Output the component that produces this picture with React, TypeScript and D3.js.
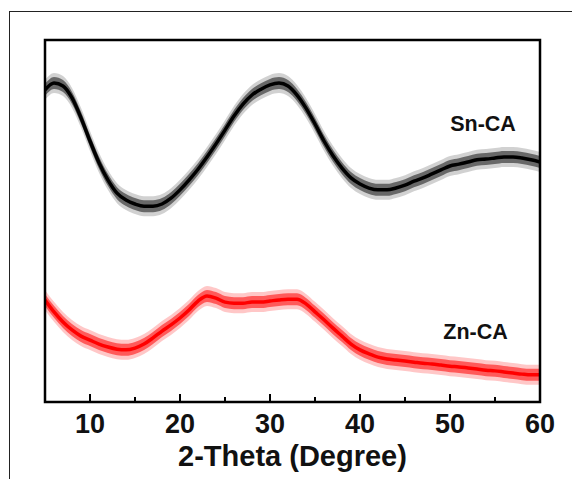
import React from "react";
import * as d3 from "d3";

const twoTheta = [5,6,7,8,9,10,11,12,13,14,15,16,17,18,19,20,21,22,23,24,25,26,27,28,29,30,31,32,33,34,35,36,37,38,39,40,41,42,43,44,45,46,47,48,49,50,51,52,53,54,55,56,57,58,59,60];
// intensities in arbitrary units (0..1000 over the plot height)
const snCA = [862,881,873,840,785,721,661,613,577,558,547,541,541,547,563,586,613,643,677,713,751,790,823,848,864,876,881,873,848,812,768,721,680,646,619,602,591,586,586,591,599,610,619,630,641,652,657,663,669,671,674,677,677,674,669,663];
const znCA = [282,249,221,199,182,171,160,152,146,144,149,160,177,196,213,232,254,279,293,287,276,273,273,276,276,279,282,284,284,271,249,227,204,182,160,144,133,124,119,116,113,110,107,105,102,99,97,94,91,88,86,83,80,77,75,75];
const xTicks = [10,20,30,40,50,60];
const xMinorTicks = [15,25,35,45,55];
const seriesNames = ["Sn-CA","Zn-CA"];

const W = 572, H = 479;
const L = 45, R = 540, T = 40, B = 402;
const FONT = "'Liberation Sans', Arial, sans-serif";

export default function App() {
  const x = d3.scaleLinear().domain([5, 60]).range([L, R]);
  const y = d3.scaleLinear().domain([0, 1000]).range([B, T]);
  const mk = (vals: number[]) => {
    const pts = twoTheta.map((t, i) => [t, vals[i]] as [number, number]);
    const line = d3.line<[number, number]>().x(d => x(d[0])).y(d => y(d[1])).curve(d3.curveMonotoneX)(pts) || "";
    const area = (b: number) => d3.area<[number, number]>().x(d => x(d[0])).y0(d => y(d[1]) + b).y1(d => y(d[1]) - b).curve(d3.curveMonotoneX)(pts) || "";
    return { line, outer: area(10), inner: area(6) };
  };
  const sn = mk(snCA);
  const zn = mk(znCA);
  return (
    <svg width={W} height={H} style={{ position: "absolute", left: 0, top: 0, background: "#fff" }}>
      <rect x={0} y={0} width={W} height={H} fill="#fff" />
      <rect x={9.5} y={11.5} width={700} height={600} fill="none" stroke="#222" strokeWidth={1} />
      <defs>
        <clipPath id="plotclip"><rect x={L} y={T} width={R - L} height={B - T} /></clipPath>
      </defs>
      <g clipPath="url(#plotclip)">
        <path d={sn.outer} fill="#000" fillOpacity={0.18} />
        <path d={sn.inner} fill="#000" fillOpacity={0.5} />
        <path d={sn.line} fill="none" stroke="#000" strokeWidth={3.5} />
        <path d={zn.outer} fill="#ff0000" fillOpacity={0.22} />
        <path d={zn.inner} fill="#ff0000" fillOpacity={0.55} />
        <path d={zn.line} fill="none" stroke="#ff0000" strokeWidth={3.5} />
      </g>
      <rect x={L} y={T} width={R - L} height={B - T} fill="none" stroke="#000" strokeWidth={2.5} />
      {xTicks.map(t => (
        <g key={t}>
          <line x1={x(t)} x2={x(t)} y1={B} y2={B - 8} stroke="#000" strokeWidth={2} />
          <text x={x(t)} y={433} textAnchor="middle" fontFamily={FONT} fontWeight="bold" fontSize={27} fill="#111">{t}</text>
        </g>
      ))}
      {xMinorTicks.map(t => (
        <line key={t} x1={x(t)} x2={x(t)} y1={B} y2={B - 5} stroke="#000" strokeWidth={2} />
      ))}
      <text x={(L + R) / 2} y={466} textAnchor="middle" fontFamily={FONT} fontWeight="bold" fontSize={29} fill="#111">2-Theta (Degree)</text>
      <text x={483} y={131} textAnchor="middle" fontFamily={FONT} fontWeight="bold" fontSize={21.5} fill="#111">{seriesNames[0]}</text>
      <text x={475.5} y={339} textAnchor="middle" fontFamily={FONT} fontWeight="bold" fontSize={21.5} fill="#111">{seriesNames[1]}</text>
    </svg>
  );
}
